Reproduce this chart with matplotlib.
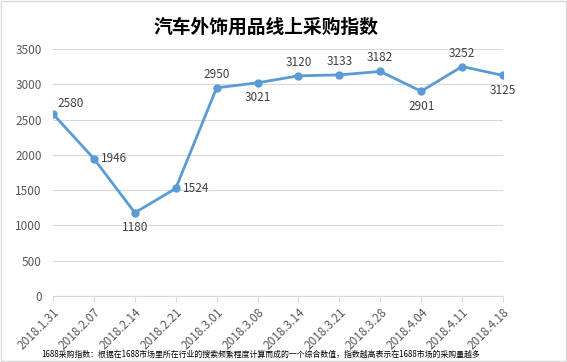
import matplotlib.pyplot as plt
from matplotlib.patches import Rectangle

plt.rcParams['font.family'] = ['Noto Sans CJK SC', 'DejaVu Sans']

dates = ['2018.1.31', '2018.2.07', '2018.2.14', '2018.2.21', '2018.3.01', '2018.3.08',
         '2018.3.14', '2018.3.21', '2018.3.28', '2018.4.04', '2018.4.11', '2018.4.18']
values = [2580, 1946, 1180, 1524, 2950, 3021, 3120, 3133, 3182, 2901, 3252, 3125]
# where each value label sits relative to its point
label_pos = ['ur', 'r', 'b', 'r', 'u', 'b', 'u', 'u', 'u', 'b', 'u', 'b']
yticks = [0, 500, 1000, 1500, 2000, 2500, 3000, 3500]

title = '汽车外饰用品线上采购指数'
note = '1688采购指数：根据在1688市场里所在行业的搜索频繁程度计算而成的一个综合数值，指数越高表示在1688市场的采购量越多'

fig = plt.figure(figsize=(5.67, 3.62), dpi=100)
ax = fig.add_axes([53 / 567, 1 - 296 / 362, 450 / 567, 247 / 362])

x = list(range(len(values)))
ax.plot(x, values, color='#5B9BD5', lw=2, marker='o', ms=5, zorder=3)

for xi, v, p in zip(x, values, label_pos):
    if p == 'ur':
        ax.annotate(str(v), (xi, v), xytext=(3, 3), textcoords='offset points',
                    ha='left', va='bottom', fontsize=8.5, color='#404040')
    elif p == 'r':
        ax.annotate(str(v), (xi, v), xytext=(5, 0), textcoords='offset points',
                    ha='left', va='center', fontsize=8.5, color='#404040')
    elif p == 'u':
        ax.annotate(str(v), (xi, v), xytext=(0, 5), textcoords='offset points',
                    ha='center', va='bottom', fontsize=8.5, color='#404040')
    else:
        ax.annotate(str(v), (xi, v), xytext=(0, -6), textcoords='offset points',
                    ha='center', va='top', fontsize=8.5, color='#404040')

ax.set_xlim(0, len(values) - 1)
ax.set_ylim(0, 3500)
ax.set_yticks(yticks)
ax.set_xticks(x)
ax.set_xticklabels(dates, rotation=45, ha='right', rotation_mode='anchor',
                   fontsize=8.5, color='#595959')
ax.tick_params(axis='y', length=0, labelsize=8.5, labelcolor='#595959', pad=8)
ax.tick_params(axis='x', length=4, color='#D9D9D9', pad=3)
ax.grid(axis='y', color='#D9D9D9', lw=0.8)
ax.set_axisbelow(True)
for s in ['top', 'right', 'left']:
    ax.spines[s].set_visible(False)
ax.spines['bottom'].set_color('#D9D9D9')

fig.text(266 / 567, 1 - 27 / 362, title, ha='center', va='center', fontsize=13.5,
         fontweight='bold', color='black')
fig.text(261 / 567, 1 - 354 / 362, note, ha='center', va='center', fontsize=5.7,
         color='black')

fig.patches.append(Rectangle((0.002, 0.003), 0.996, 0.994, transform=fig.transFigure,
                             fill=False, edgecolor='#D9D9D9', lw=1))

fig.savefig('out.png', dpi=100)
